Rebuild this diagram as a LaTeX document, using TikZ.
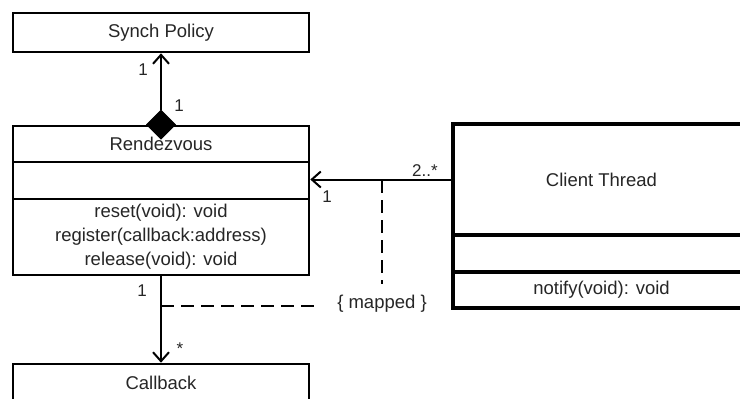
\documentclass[tikz,border=0pt]{standalone}
\usepackage{fontspec}
\setmainfont{Liberation Sans}
\usetikzlibrary{arrows.meta,shapes.geometric}
\begin{document}
\begin{tikzpicture}[x=1pt,y=-1pt,
  box/.style={draw, line width=2.6pt, rectangle, inner sep=0pt, font=\fontsize{18.5}{24}\selectfont, align=center, text=black!85},
  thickbox/.style={box, line width=3.6pt},
  lbl/.style={font=\fontsize{17}{19}\selectfont, inner sep=0pt, text=black!85},
  assoc/.style={line width=2pt, -{Straight Barb[length=9pt,width=16pt,line width=2pt]}},
  constraint/.style={line width=2.2pt, dash pattern=on 13pt off 7pt}]
\useasboundingbox (0,0) rectangle (740,399);
\clip (0,0) rectangle (740,399);
\fill[white] (0,0) rectangle (740,399);

% Synch Policy
\node[box, minimum width=296pt, minimum height=39pt] (sp) at (161,32.5) {Synch Policy};

% Rendezvous
\node[box, minimum width=296pt, minimum height=36pt] (rvn) at (161,144) {Rendezvous};
\node[box, minimum width=296pt, minimum height=37pt] (rva) at (161,180.5) {};
\node[box, minimum width=296pt, minimum height=76pt] (rvo) at (161,237) {reset(void): void\\register(callback:address)\\release(void): void};

% Client Thread
\node[thickbox, minimum width=297pt, minimum height=111pt] (ctn) at (601.5,179.5) {Client Thread};
\node[thickbox, minimum width=297pt, minimum height=37pt] (cta) at (601.5,253.5) {};
\node[thickbox, minimum width=297pt, minimum height=36pt] (cto) at (601.5,290) {notify(void): void};

% Callback
\node[box, minimum width=296pt, minimum height=38pt] (cb) at (161,383) {Callback};

% composition
\node[diamond, fill=black, draw, line width=1pt, minimum width=29pt, minimum height=29pt, inner sep=0pt] (dia) at (rvn.north) {};
\draw[assoc] (dia.north) -- (sp.south);
\node[lbl] (m1) at (143,70) {1};
\node[lbl] (m2) at (179,106) {1};

% client -> rendezvous
\draw[assoc] (ctn.west) -- (ctn.west -| rva.east);
\node[lbl] (m3) at (425,171) {2..*};
\node[lbl] (m4) at (327,197) {1};

% rendezvous -> callback
\draw[assoc] (rvo.south) -- (cb.north);
\node[lbl] (m5) at (142,291) {1};
\node[lbl] (m6) at (180,349) {*};

% constraint
\node[lbl, font=\fontsize{18.5}{20}\selectfont] (mapped) at (382,304) {\{ mapped \}};
\coordinate (j1) at (382,180);
\coordinate (j1e) at (382,284);
\coordinate (j2) at (161,306);
\draw[constraint] (j1) -- (j1e);
\draw[constraint] (j2) -- ([xshift=-17pt]mapped.west |- j2);
\end{tikzpicture}
\end{document}
